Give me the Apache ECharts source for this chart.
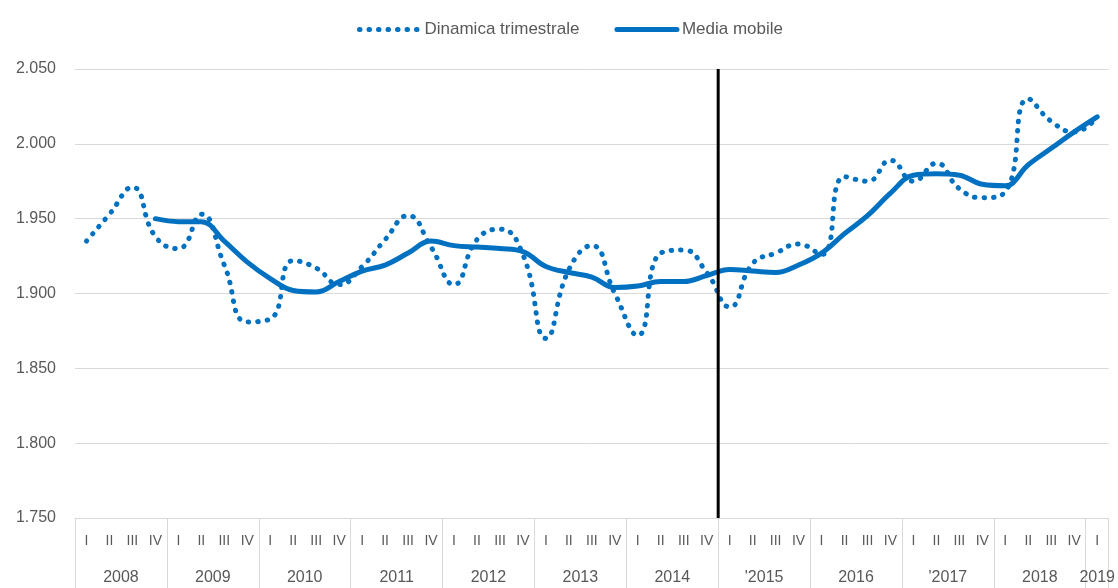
<!DOCTYPE html>
<html>
<head>
<meta charset="utf-8">
<script src="https://cdn.jsdelivr.net/npm/echarts@6/dist/echarts.min.js"></script>
<style>
html,body{margin:0;padding:0;background:#fff;}
#chart{width:1118px;height:588px;}
</style>
</head>
<body>
<div id="chart"></div>
<script>
// Quarter categories 2008 I .. 2019 I
const quarters = ['I','II','III','IV','I','II','III','IV','I','II','III','IV','I','II','III','IV',
  'I','II','III','IV','I','II','III','IV','I','II','III','IV','I','II','III','IV',
  'I','II','III','IV','I','II','III','IV','I','II','III','IV','I'];
const years = ['2008','2009','2010','2011','2012','2013','2014',"'2015",'2016',"'2017",'2018','2019'];
// year label centres and year boundaries, in quarter units
const yearCenters = [2,6,10,14,18,22,26,30,34,38,42,44.5];
const yearBounds = [0,4,8,12,16,20,24,28,32,36,40,44,45];
// Dinamica trimestrale
const dinamica = [1935,1953,1971,1938,1930,1953,1919,1881,1883,1922,1917,1906,1918,1936,1952,1931,
  1906,1936,1943,1926,1870,1916,1932,1900,1872,1927,1929,1914,1891,1920,1927,1933,
  1926,1978,1975,1989,1975,1987,1970,1964,1968,2030,2015,2008,2018];
// Media mobile
const media = [null,null,null,1950,1948,1948,1935,1921,1910,1902,1901,1908,1915,1919,1927,1935,
  1932,1931,1930,1928,1918,1914,1911,1904,1905,1908,1908,1912,1916,1915,1914,1919,
  1927,1940,1952,1967,1979,1980,1979,1973,1972,1986,1997,2008,2018];
// vertical divider position (quarter boundary before 2015 I)
const dividerAt = 28;
const yTicks = {min:1750, max:2050, step:50};

const FONT = 'Liberation Sans';
const chart = echarts.init(document.getElementById('chart'));
chart.setOption({
  animation:false,
  textStyle:{fontFamily:FONT},
  legend:{
    data:['Dinamica trimestrale','Media mobile'],
    left:352, top:16, itemWidth:60, itemHeight:14, itemGap:35,
    itemStyle:{opacity:0},
    lineStyle:{width:5},
    textStyle:{fontSize:17,color:'#595959',fontFamily:FONT}
  },
  grid:{left:75,right:8,top:69,bottom:70,containLabel:false},
  xAxis:[{
    type:'category', data:quarters, boundaryGap:true,
    axisLine:{show:true,lineStyle:{color:'#d9d9d9',width:1}},
    axisTick:{show:false},
    axisLabel:{interval:0,fontSize:14,color:'#595959',margin:16,fontFamily:FONT},
    splitLine:{show:false}
  },{
    type:'value', min:0, max:45, position:'bottom', offset:0,
    axisLine:{show:false},
    axisTick:{show:true,customValues:yearBounds,length:70,lineStyle:{color:'#d9d9d9',width:1}},
    axisLabel:{customValues:yearCenters,margin:52,fontSize:16,color:'#595959',fontFamily:FONT,
      formatter:function(v){const i=yearCenters.indexOf(v);return i>=0?years[i]:'';}},
    splitLine:{show:false}
  }],
  yAxis:{
    type:'value', min:yTicks.min, max:yTicks.max, interval:yTicks.step,
    axisLine:{show:false}, axisTick:{show:false},
    axisLabel:{fontSize:16,color:'#595959',margin:19,fontFamily:FONT,
      formatter:function(v){return (v/1000).toFixed(3);}},
    splitLine:{lineStyle:{color:'#d9d9d9',width:1}}
  },
  series:[{
    name:'Dinamica trimestrale', type:'line', data:dinamica, xAxisIndex:0,
    smooth:0.5, symbol:'none',
    lineStyle:{color:'#0070C0',width:5,type:[0.5,9],cap:'round'},
    itemStyle:{color:'#0070C0'}, z:2
  },{
    name:'Media mobile', type:'line', data:media, xAxisIndex:0,
    smooth:0.4, symbol:'none', connectNulls:false,
    lineStyle:{color:'#0070C0',width:5,cap:'round'},
    itemStyle:{color:'#0070C0'}, z:3
  },{
    name:'divider', type:'line', xAxisIndex:1, silent:true,
    data:[[dividerAt,yTicks.min],[dividerAt,yTicks.max]],
    symbol:'none', lineStyle:{color:'#000',width:3}, z:4
  }]
});
</script>
</body>
</html>
